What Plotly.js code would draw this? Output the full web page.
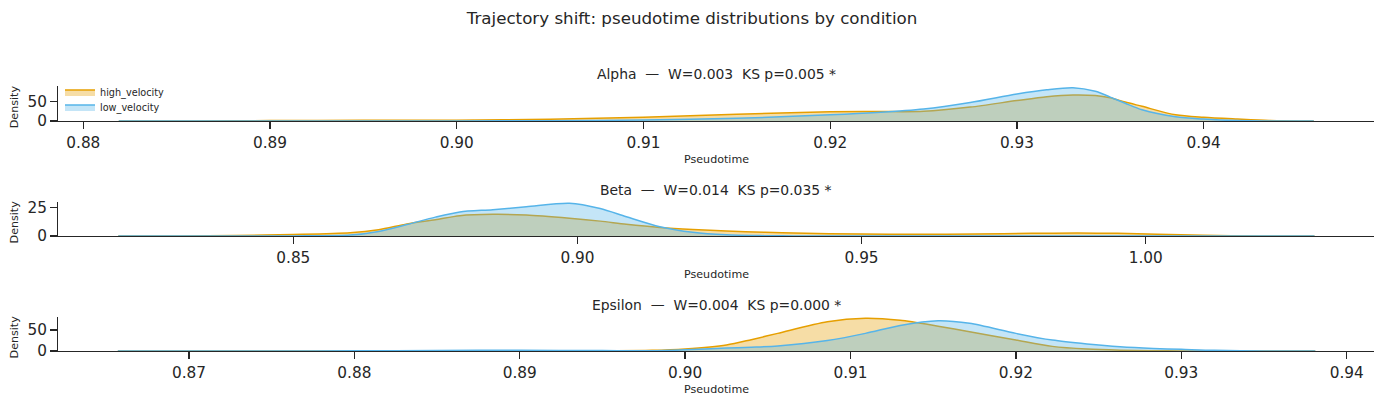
<!DOCTYPE html>
<html>
<head>
<meta charset="utf-8">
<script src="https://cdn.plot.ly/plotly-3.0.1.min.js"></script>
<style>
  html, body { margin: 0; padding: 0; background: #ffffff; }
  #chart { width: 1384px; height: 405px; }
</style>
</head>
<body>
<div id="chart"></div>
<script>
// Pseudotime KDE curves per cluster, evaluated on a shared grid per panel.
const alphaX    = [0.8819, 0.8860, 0.8900, 0.8950, 0.9000, 0.9050, 0.9100, 0.9150, 0.9200, 0.9225, 0.9250, 0.9275, 0.9300, 0.9316, 0.9330, 0.9342, 0.9350, 0.9358, 0.9367, 0.9385, 0.9400, 0.9418, 0.9435, 0.9459];
const alphaHigh = [0, 0.3, 1.0, 2.0, 2.2, 4.5, 10, 17.5, 24, 24.5, 25, 36, 53, 63, 67.5, 66, 60, 49, 38, 16, 9.5, 5, 1.5, 0];
const alphaLow  = [0, 0, 0.1, 0.2, 0.3, 0.8, 2.5, 7, 16, 22, 31, 48, 70, 81, 86.4, 77, 62, 46, 29, 11, 5, 1, 0.2, 0];

const betaX    = [0.8192, 0.8300, 0.8400, 0.8500, 0.8600, 0.8650, 0.8700, 0.8750, 0.8793, 0.8851, 0.8910, 0.8986, 0.9040, 0.9086, 0.9145, 0.9203, 0.9262, 0.9330, 0.9380, 0.9500, 0.9600, 0.9700, 0.9800, 0.9880, 0.9950, 1.0020, 1.0100, 1.0200, 1.0297];
const betaHigh = [0, 0.1, 0.5, 1.3, 2.8, 5.5, 10.5, 14.2, 17.7, 18.9, 18.3, 15.5, 13, 10.3, 7.5, 5.7, 4.4, 3.2, 2.6, 1.7, 1.5, 1.8, 2.3, 2.6, 2.3, 1.5, 0.6, 0.1, 0];
const betaLow  = [0, 0, 0, 0.1, 0.8, 4.0, 10, 16.5, 21, 23, 25.5, 28.6, 24, 16.8, 8.1, 3.2, 1.0, 0.3, 0.1, 0, 0, 0, 0, 0, 0, 0, 0, 0, 0];

const epsX    = [0.8657, 0.8700, 0.8750, 0.8800, 0.8850, 0.8900, 0.8950, 0.8980, 0.9000, 0.9025, 0.9040, 0.9056, 0.9086, 0.9109, 0.9130, 0.9153, 0.9172, 0.9200, 0.9222, 0.9243, 0.9263, 0.9283, 0.9300, 0.9320, 0.9350, 0.9381];
const epsHigh = [0, 0, 0, 0, 0, 0, 0.3, 1.5, 5, 14.3, 27, 42, 69.8, 77.8, 73, 59, 46, 26, 11, 4.5, 1.8, 0.6, 0.2, 0, 0, 0];
const epsLow  = [0, 0.1, 0.2, 0.4, 1.2, 1.8, 1.0, 0.6, 3, 7, 9, 12, 25, 42, 61, 72.2, 66, 42, 26, 16.7, 10, 6, 4, 1.5, 0.3, 0];

const panelTitles = [
  "Alpha  —  W=0.003  KS p=0.005 *",
  "Beta  —  W=0.014  KS p=0.035 *",
  "Epsilon  —  W=0.004  KS p=0.000 *"
];
const conditions = ["high_velocity", "low_velocity"];

const FONT = "DejaVu Sans, Verdana, sans-serif";
const INK = "#262626";
const lineColors = ["#E69F00", "#56B4E9"];
const fillColors = ["rgba(230,159,0,0.35)", "rgba(86,180,233,0.35)"];
const legendIds = ["legend", "legend2"];

const panels = [
  { x: alphaX, series: [alphaHigh, alphaLow] },
  { x: betaX,  series: [betaHigh, betaLow] },
  { x: epsX,   series: [epsHigh, epsLow] }
];

const traces = [];
panels.forEach((p, i) => {
  const suffix = i === 0 ? "" : String(i + 1);
  p.series.forEach((ys, k) => {
    traces.push({
      type: "scatter",
      mode: "lines",
      x: p.x,
      y: ys,
      name: conditions[k],
      legend: legendIds[k],
      showlegend: i === 0,
      xaxis: "x" + suffix,
      yaxis: "y" + suffix,
      fill: "tozeroy",
      fillcolor: fillColors[k],
      line: { color: lineColors[k], width: 1.5, shape: "spline", smoothing: 0.8 },
      hoverinfo: "x+y+name"
    });
  });
});

// panel geometry (paper fractions)
const xDom = [0.04212, 0.99299];
const yDoms = [[0.70123, 0.78765], [0.41728, 0.50206], [0.13333, 0.21803]];
const xRanges = [[0.87866, 0.94914], [0.80864, 1.04023], [0.8621, 0.94167]];
const xDticks = [0.01, 0.05, 0.01];
const yRanges = [[0, 90.7], [0, 30.0], [0, 81.7]];
const yTicks = [[0, 50], [0, 25], [0, 50]];
const titleY = [74, 189.5, 305.3];
const xLabelY = [159.3, 274.3, 389.3];
const yLabelY = [106.5, 221.7, 336.7];

const H = 405, W = 1384;
const axisCommon = {
  showline: true, linecolor: INK, linewidth: 1.25,
  ticks: "outside", ticklen: 7, tickwidth: 1.25, tickcolor: INK,
  showgrid: false, zeroline: false,
  tickfont: { family: FONT, size: 15.3, color: INK },
  fixedrange: true
};

const legendBase = {
  x: 60 / W, xanchor: "left",
  yanchor: "top",
  bgcolor: "rgba(255,255,255,0)",
  font: { family: FONT, size: 9.7, color: INK },
  itemwidth: 30
};

const layout = {
  width: W, height: H,
  margin: { l: 0, r: 0, t: 0, b: 0 },
  paper_bgcolor: "#ffffff",
  plot_bgcolor: "#ffffff",
  title: {
    text: "Trajectory shift: pseudotime distributions by condition",
    x: 0.5, xanchor: "center",
    y: 1 - 18 / H, yanchor: "middle",
    font: { family: FONT, size: 16.7, color: INK }
  },
  showlegend: true,
  legend: Object.assign({}, legendBase, { y: 1 - 77.5 / H }),
  legend2: Object.assign({}, legendBase, { y: 1 - 92.5 / H }),
  annotations: []
};

for (let i = 0; i < 3; i++) {
  const suffix = i === 0 ? "" : String(i + 1);
  layout["xaxis" + suffix] = Object.assign({}, axisCommon, {
    domain: xDom,
    anchor: "y" + suffix,
    range: xRanges[i],
    tick0: 0,
    dtick: xDticks[i],
    tickformat: ".2f"
  });
  layout["yaxis" + suffix] = Object.assign({}, axisCommon, {
    domain: yDoms[i],
    anchor: "x" + suffix,
    range: yRanges[i],
    tickmode: "array",
    tickvals: yTicks[i],
    ticktext: yTicks[i].map(String)
  });
  const cx = (xDom[0] + xDom[1]) / 2;
  layout.annotations.push({
    text: panelTitles[i], xref: "paper", yref: "paper",
    x: cx, y: 1 - titleY[i] / H, xanchor: "center", yanchor: "middle",
    showarrow: false, font: { family: FONT, size: 13.9, color: INK }
  });
  layout.annotations.push({
    text: "Pseudotime", xref: "paper", yref: "paper",
    x: cx, y: 1 - xLabelY[i] / H, xanchor: "center", yanchor: "middle",
    showarrow: false, font: { family: FONT, size: 11.1, color: INK }
  });
  layout.annotations.push({
    text: "Density", xref: "paper", yref: "paper",
    x: 14.7 / W, y: 1 - yLabelY[i] / H, xanchor: "center", yanchor: "middle",
    textangle: -90,
    showarrow: false, font: { family: FONT, size: 11.1, color: INK }
  });
}

Plotly.newPlot("chart", traces, layout, { displayModeBar: false, staticPlot: true });
</script>
</body>
</html>
